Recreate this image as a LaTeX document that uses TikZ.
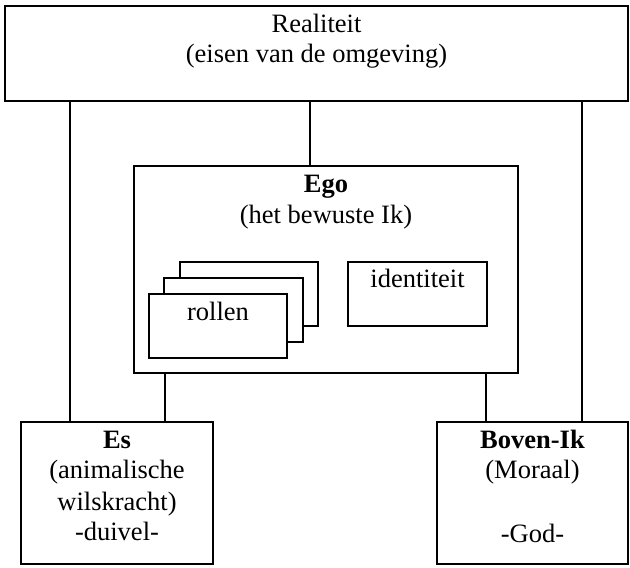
\documentclass[tikz,border=0pt]{standalone}
\usepackage{fontspec}
\setmainfont{Liberation Serif}
\begin{document}
\begin{tikzpicture}[x=1pt,y=-1pt,
  boxnode/.style={draw, line width=2.2pt, fill=white, inner sep=0pt, outer sep=0pt},
  txt/.style={anchor=base, inner sep=0pt, font=\fontsize{26.5}{30}\selectfont},
  link/.style={line width=1.9pt}]
\useasboundingbox (0,0) rectangle (630,568);
% boxes
\node[boxnode, minimum width=623pt, minimum height=95pt] (real) at (316.5,53.5) {};
\node[boxnode, minimum width=384pt, minimum height=207pt] (ego) at (326,269.5) {};
\node[boxnode, minimum width=138pt, minimum height=64pt] (rolc) at (249,294) {};
\node[boxnode, minimum width=139pt, minimum height=64pt] (rolb) at (233.5,310) {};
\node[boxnode, minimum width=138pt, minimum height=64pt] (rola) at (218,326) {};
\node[boxnode, minimum width=139pt, minimum height=64pt] (ident) at (417.5,294) {};
\node[boxnode, minimum width=192pt, minimum height=142pt] (es) at (117,493) {};
\node[boxnode, minimum width=191pt, minimum height=142pt] (boven) at (532.5,493) {};
% texts
\node[txt] (t1) at (316.5,32) {Realiteit};
\node[txt] (t2) at (316.5,62) {(eisen van de omgeving)};
\node[txt] (t3) at (326,192) {\bfseries Ego};
\node[txt] (t4) at (326,223) {(het bewuste Ik)};
\node[txt] (t5) at (218,320) {rollen};
\node[txt] (t6) at (417.5,287) {identiteit};
\node[txt] (t7) at (117,448) {\bfseries Es};
\node[txt] (t8) at (117,478) {(animalische};
\node[txt] (t9) at (117,510) {wilskracht)};
\node[txt] (t10) at (117,540) {-duivel-};
\node[txt] (t11) at (532.5,448) {\bfseries Boven-Ik};
\node[txt] (t12) at (532.5,478) {(Moraal)};
\node[txt] (t13) at (532.5,542) {-God-};
% connector x positions
\coordinate (xa) at (70,0);
\coordinate (xb) at (310,0);
\coordinate (xc) at (582,0);
\coordinate (xd) at (165,0);
\coordinate (xe) at (486,0);
\draw[link] (real.south -| xa) -- (es.north -| xa);
\draw[link] (real.south -| xb) -- (ego.north -| xb);
\draw[link] (real.south -| xc) -- (boven.north -| xc);
\draw[link] (ego.south -| xd) -- (es.north -| xd);
\draw[link] (ego.south -| xe) -- (boven.north -| xe);
\end{tikzpicture}
\end{document}
